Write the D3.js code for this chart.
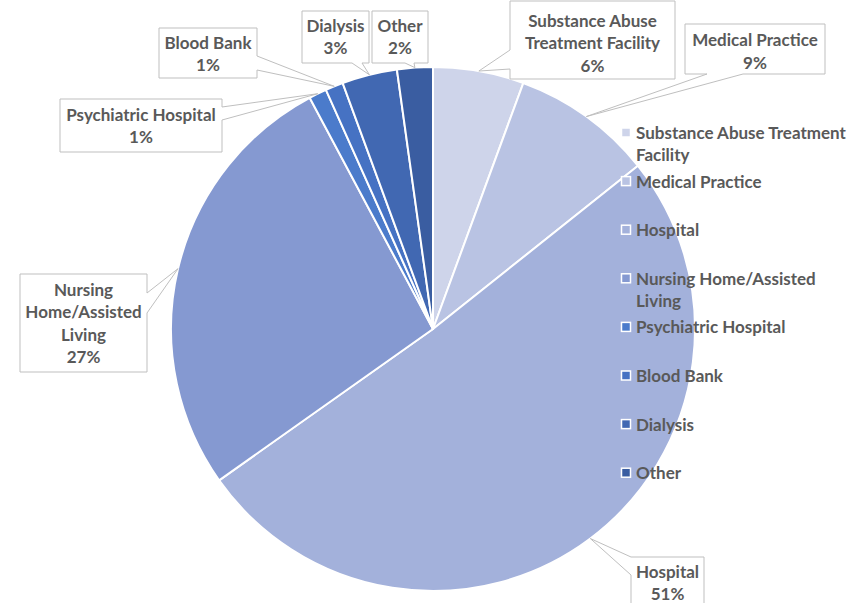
<!DOCTYPE html>
<html>
<head>
<meta charset="utf-8">
<script src="https://cdn.jsdelivr.net/npm/d3@7"></script>
<style>
  html, body { margin: 0; padding: 0; background: #fff; }
  svg { display: block; }
  text { font-family: Lato, "Open Sans", sans-serif; font-weight: 700; fill: #595959; }
</style>
</head>
<body>
<svg id="chart" width="863" height="603"></svg>
<script>
// ---- data ----
const categories = [
  "Substance Abuse Treatment Facility",
  "Medical Practice",
  "Hospital",
  "Nursing Home/Assisted Living",
  "Psychiatric Hospital",
  "Blood Bank",
  "Dialysis",
  "Other"
];
const values = [5.6, 8.7, 50.9, 27.0, 1.1, 1.1, 3.4, 2.2];
const colors = ["#CED4EA", "#B9C3E3", "#A3B1DB", "#8599D1", "#4B7BCB", "#4672C3", "#4168B2", "#3A5DA1"];
// callout label line breaks (text)
const calloutLines = [
  ["Substance Abuse", "Treatment Facility"],
  ["Medical Practice"],
  ["Hospital"],
  ["Nursing", "Home/Assisted", "Living"],
  ["Psychiatric Hospital"],
  ["Blood Bank"],
  ["Dialysis"],
  ["Other"]
];
const legendLines = [
  ["Substance Abuse Treatment", "Facility"],
  ["Medical Practice"],
  ["Hospital"],
  ["Nursing Home/Assisted", "Living"],
  ["Psychiatric Hospital"],
  ["Blood Bank"],
  ["Dialysis"],
  ["Other"]
];

// ---- layout ----
const svg = d3.select("#chart");
const cx = 433, cy = 329, R = 262;
const total = d3.sum(values);
const pct = v => Math.round(v / total * 100) + "%";

const pie = d3.pie().sort(null).value(d => d.value);
const arcs = pie(categories.map((c, i) => ({ name: c, value: values[i], i })));
const arc = d3.arc().innerRadius(0).outerRadius(R);

const g = svg.append("g").attr("transform", `translate(${cx},${cy})`);
g.selectAll("path.slice").data(arcs).enter().append("path")
  .attr("class", "slice")
  .attr("d", arc)
  .attr("fill", d => colors[d.data.i])
  .attr("stroke", "#fff")
  .attr("stroke-width", 2)
  .attr("stroke-linejoin", "round");

// callout boxes: x, y, w, h, tail side, base start, base end, first text line centre
const boxes = [
  { x: 510, y: 1,   w: 165, h: 78, side: "left",   b0: 50,  b1: 69,  ty: 21 },
  { x: 685, y: 24,  w: 140, h: 50, side: "bottom", b0: 707, b1: 743, ty: 40.5 },
  { x: 631, y: 557, w: 73,  h: 56, side: "left",   b0: 557, b1: 575, ty: 572 },
  { x: 20,  y: 274, w: 127, h: 98, side: "right",  b0: 293, b1: 313, ty: 290 },
  { x: 60,  y: 99,  w: 162, h: 53, side: "right",  b0: 107, b1: 120, ty: 115 },
  { x: 159, y: 28,  w: 98,  h: 50, side: "right",  b0: 56,  b1: 70,  ty: 43 },
  { x: 302, y: 11,  w: 67,  h: 52, side: "bottom", b0: 352, b1: 362, ty: 26 },
  { x: 372, y: 11,  w: 56,  h: 52, side: "bottom", b0: 405, b1: 414, ty: 26 }
];

function calloutPath(b, tip) {
  const x0 = b.x, y0 = b.y, x1 = b.x + b.w, y1 = b.y + b.h;
  const p = [];
  p.push([x0, y0], [x1, y0]);
  if (b.side === "right") { p.push([x1, b.b0], tip, [x1, b.b1]); }
  p.push([x1, y1]);
  if (b.side === "bottom") { p.push([b.b1, y1], tip, [b.b0, y1]); }
  p.push([x0, y1]);
  if (b.side === "left") { p.push([x0, b.b1], tip, [x0, b.b0]); }
  return "M" + p.map(q => q[0] + "," + q[1]).join("L") + "Z";
}

const lineH = 22.5;
arcs.forEach((a, k) => {
  const b = boxes[k];
  const mid = (a.startAngle + a.endAngle) / 2;
  const tip = [cx + R * Math.sin(mid), cy - R * Math.cos(mid)];
  svg.append("path")
    .attr("d", calloutPath(b, tip))
    .attr("fill", "#fff")
    .attr("stroke", "#BFBFBF")
    .attr("stroke-width", 1);
  const lines = calloutLines[k].concat([pct(values[k])]);
  const t = svg.append("text")
    .attr("text-anchor", "middle")
    .attr("font-size", 17);
  lines.forEach((ln, j) => {
    t.append("tspan")
      .attr("x", b.x + b.w / 2)
      .attr("y", b.ty + j * lineH)
      .attr("dy", "0.35em")
      .text(ln);
  });
});

// legend
const lg = svg.append("g");
const ly0 = 133, lStep = 48.6;
categories.forEach((c, i) => {
  const y = ly0 + i * lStep;
  lg.append("rect")
    .attr("x", 621.5).attr("y", y - 5)
    .attr("width", 9).attr("height", 9)
    .attr("fill", colors[i])
    .attr("stroke", "#fff").attr("stroke-width", 1.5);
  const t = lg.append("text").attr("font-size", 17);
  legendLines[i].forEach((ln, j) => {
    t.append("tspan").attr("x", 636).attr("y", y + j * 22.5).attr("dy", "0.35em").text(ln);
  });
});
</script>
</body>
</html>
